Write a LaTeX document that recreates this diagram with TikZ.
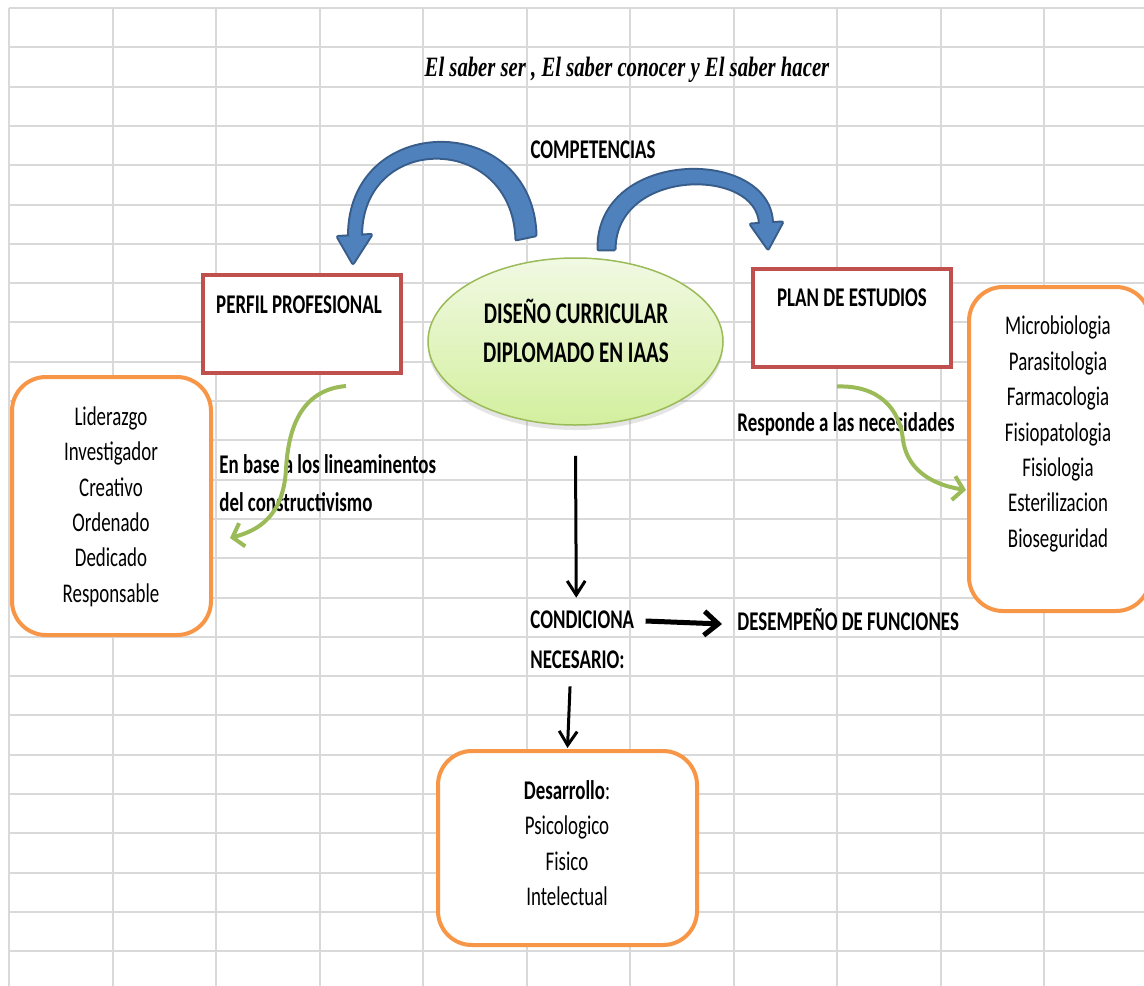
\documentclass[tikz,border=0pt]{standalone}
\usepackage{fontspec}
\setmainfont{Carlito}[FakeStretch=0.70]
\newfontfamily\titlefont{Liberation Serif}[FakeStretch=0.74]
\usetikzlibrary{positioning,calc,arrows.meta,shapes.geometric,shadows}

\definecolor{gridgray}{HTML}{D9D9D9}
\definecolor{boxred}{HTML}{C0504D}
\definecolor{boxorange}{HTML}{F79646}
\definecolor{leafgreen}{HTML}{9BBB59}
\definecolor{blueline}{HTML}{385D8A}
\definecolor{bluefill}{HTML}{4F81BD}
\definecolor{ovaltop}{HTML}{F1F9E3}
\definecolor{ovalbottom}{HTML}{D3EF9E}

\tikzset{
  cell/.style={draw=gridgray, line width=1pt},
  redbox/.style={draw=boxred, line width=2pt, fill=white, inner sep=0pt, minimum width=99pt, minimum height=49pt},
  orangebox/.style={draw=boxorange, line width=2pt, fill=white, rounded corners=17pt, inner sep=0pt},
  lbl/.style={font=\fontsize{13.5}{17.7}\selectfont\bfseries, inner sep=0pt},
  lista/.style={font=\fontsize{13.5}{17.7}\selectfont, align=center, inner sep=0pt},
  titulo/.style={font=\titlefont\fontsize{14}{16}\selectfont\bfseries\itshape, inner sep=0pt},
  greenarrow/.style={draw=leafgreen, line width=2pt, -{Straight Barb[length=5pt,width=12pt]}},
  blackarrow/.style={draw=black, line width=1.5pt, -{Straight Barb[length=7pt,width=9pt]}},
  blueedge/.style={draw=blueline, fill=bluefill, line width=2pt, line join=round},
  bluecore/.style={fill=bluefill},
}

\begin{document}
\begin{tikzpicture}[x=0.5pt, y=-0.5pt]
	\useasboundingbox (0,0) rectangle (1144,985);
	\clip (0,0) rectangle (1144,985);
	\fill[white] (0,0) rectangle (1144,985);
	% hoja de calculo
	\foreach \i in {0,...,11} \draw[cell] ({9+103.5*\i},8) -- ({9+103.5*\i},990);
	\foreach \j in {0,...,25} \draw[cell] (9,{8+39.3*\j}) -- (1150,{8+39.3*\j});

	\node[titulo] (titulo) at (627,70) {El saber ser , El saber conocer y El saber hacer};
	\node[lbl] (competencias) at (593,150) {COMPETENCIAS};

	\node[redbox] (perfil) at (302,324) {};
	\node[lbl] (perfiltxt) at (299,305) {PERFIL PROFESIONAL};
	\node[redbox] (plan) at (852,317.5) {};
	\node[lbl] (plantxt) at (852,298) {PLAN DE ESTUDIOS};

	\node[ellipse, draw=leafgreen, line width=0.75pt, top color=ovaltop, bottom color=ovalbottom,
		minimum width=147.5pt, minimum height=83.5pt,
		drop shadow={shadow xshift=0pt, shadow yshift=-2.5pt, opacity=0.2}] (diseno) at (575.5,341.5) {};
	\node[lbl, font=\fontsize{15}{19.5}\selectfont\bfseries, align=center] (disenotxt) at (576,330.5) {DISEÑO CURRICULAR\\DIPLOMADO EN IAAS};

	\node[orangebox, minimum width=99.5pt, minimum height=129pt] (perfilbox) at (111.5,506) {};
	\node[lista] (rasgos) at (111,506.5) {Liderazgo\\Investigador\\Creativo\\Ordenado\\Dedicado\\Responsable};
	\node[orangebox, minimum width=90.5pt, minimum height=162pt] (planbox) at (1059.5,449) {};
	\node[lista] (materias) at (1058,434) {Microbiologia\\Parasitologia\\Farmacologia\\Fisiopatologia\\Fisiologia\\Esterilizacion\\Bioseguridad};
	\node[orangebox, minimum width=129.5pt, minimum height=97pt] (desarrollobox) at (567.5,848) {};
	\node[lista] (desarrollo) at (567,843) {\textbf{Desarrollo}:\\Psicologico\\Fisico\\Intelectual};

	\node[lbl, anchor=west, align=left, font=\fontsize{13.5}{19}\selectfont\bfseries] (enbase) at (219,483) {En base a los lineaminentos\\del constructivismo};
	\node[lbl, anchor=west] (responde) at (737,424) {Responde a las necesidades};
	\node[lbl, anchor=west] (condiciona) at (530,620) {CONDICIONA};
	\node[lbl, anchor=west] (necesario) at (530,660) {NECESARIO:};
	\node[lbl, anchor=west] (desempeno) at (737,620) {DESEMPEÑO DE FUNCIONES};

	% flechas azules
	\coordinate (ltail) at ($(diseno.north)+(-50,-20)$);
	\coordinate (lhead) at ($(perfil.north)+(53,-37)$);
	\coordinate (rtail) at ($(diseno.north)+(31,-8)$);
	\coordinate (rhead) at ($(plan.north)+(-86,-42)$);
	\foreach \layer in {blueedge,bluecore}{
		\path[\layer] ($(ltail)+(10,-2)$) .. controls (532,112) and (349,112) .. ($(lhead)+(-6,0)$)
			-- ($(lhead)+(6,0)$) .. controls (361,131) and (513,131) .. ($(ltail)+(-9,2)$) -- cycle;
		\path[\layer] ($(lhead)+(-17,1)$) -- ($(lhead)+(-2,27)$) -- ($(lhead)+(16,-1)$) -- cycle;
		\path[\layer] ($(rtail)+(-8,0)$) .. controls (597,148) and (772,148) .. ($(rhead)+(6,0)$)
			-- ($(rhead)+(-6,0)$) .. controls (759,166) and (615,166) .. ($(rtail)+(8,0)$) -- cycle;
		\path[\layer] ($(rhead)+(-15,0)$) -- ($(rhead)+(2,24)$) -- ($(rhead)+(16,-2)$) -- cycle;
	}

	\draw[greenarrow] ($(perfil.south)+(44,11)$) .. controls (300,390) and (288,430) .. (286,470)
		.. controls (283,515) and (260,530) .. ($(perfilbox.east)+(17,32)$);
	\draw[greenarrow] ($(plan.south)+(-15,18)$) .. controls (880,385) and (900,410) .. (903,440)
		.. controls (908,475) and (940,486) .. ($(planbox.west)+(-1,41)$);

	\draw[blackarrow] ($(diseno.south)+(0,30)$) -- ($(condiciona.north)+(-6,-13)$);
	\draw[blackarrow, line width=2.5pt, -{Straight Barb[length=7pt,width=12pt]}] ($(condiciona.east)+(11,1)$) -- ($(desempeno.west)+(-15,4)$);
	\draw[blackarrow] ($(necesario.south)+(-7.5,17)$) -- ($(desarrollobox.north)+(0,-1)$);
\end{tikzpicture}
\end{document}
